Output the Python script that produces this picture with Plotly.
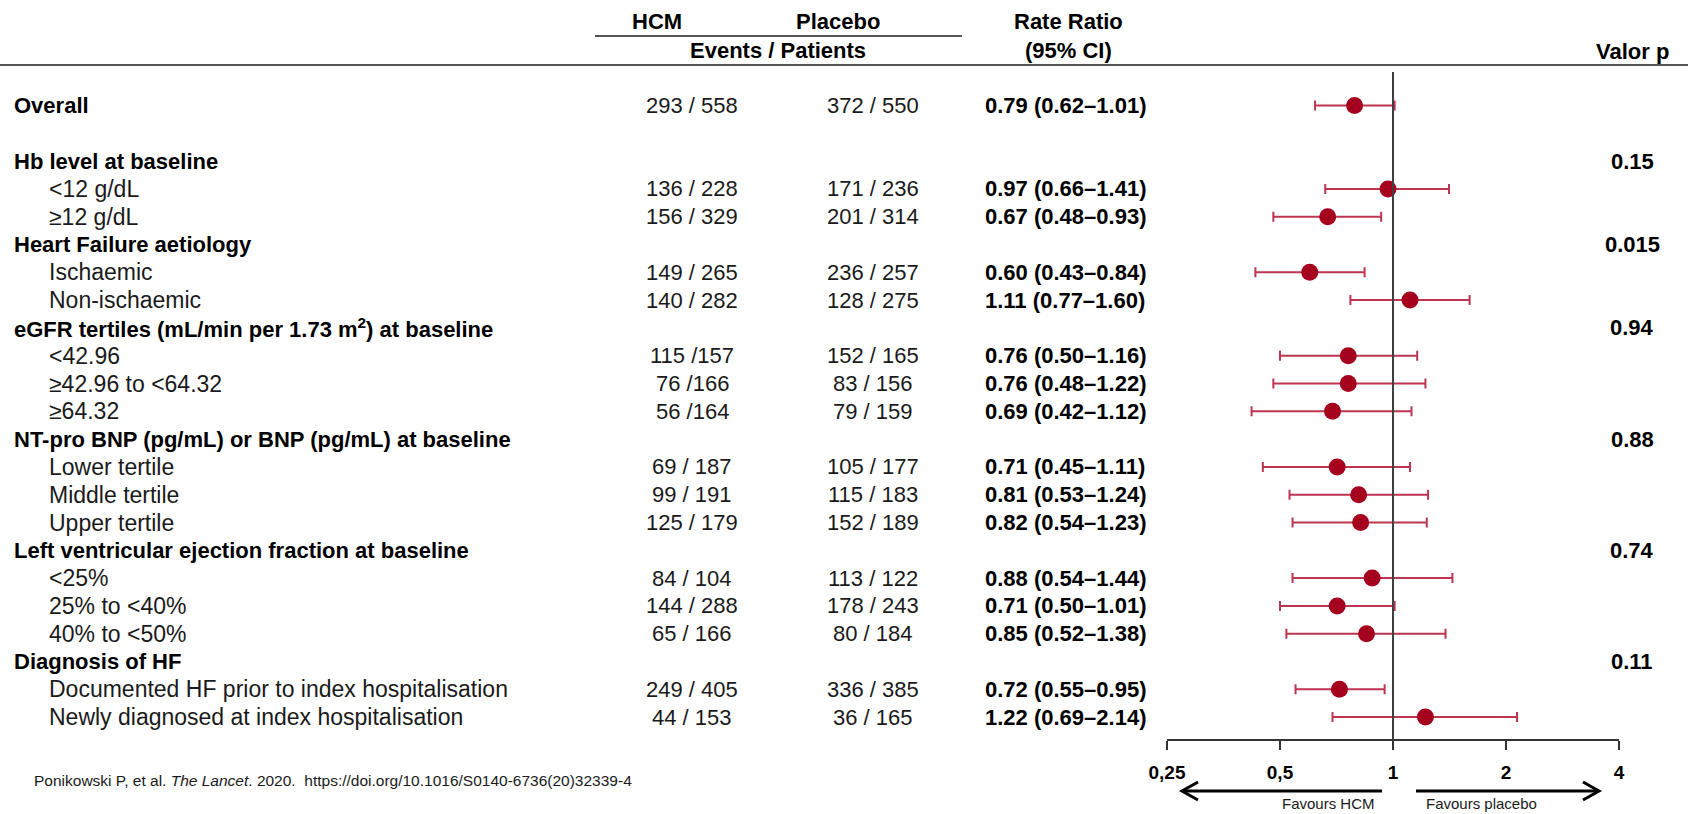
import plotly.graph_objects as go

W, H = 1688, 814

# ---- data -------------------------------------------------------------
overall_label = "Overall"
overall_hcm = "293 / 558"
overall_placebo = "372 / 550"
overall_rr, overall_lo, overall_hi = 0.79, 0.62, 1.01

group_names = [
    "Hb level at baseline",
    "Heart Failure aetiology",
    "eGFR tertiles (mL/min per 1.73 m<sup>2</sup>) at baseline",
    "NT-pro BNP (pg/mL) or BNP (pg/mL) at baseline",
    "Left ventricular ejection fraction at baseline",
    "Diagnosis of HF",
]
group_p = ["0.15", "0.015", "0.94", "0.88", "0.74", "0.11"]
group_sizes = [2, 2, 3, 3, 3, 2]

sub_labels = [
    "<12 g/dL", "≥12 g/dL",
    "Ischaemic", "Non-ischaemic",
    "<42.96", "≥42.96 to <64.32", "≥64.32",
    "Lower tertile", "Middle tertile", "Upper tertile",
    "<25%", "25% to <40%", "40% to <50%",
    "Documented HF prior to index hospitalisation",
    "Newly diagnosed at index hospitalisation",
]
hcm_events = [
    "136 / 228", "156 / 329",
    "149 / 265", "140 / 282",
    "115 /157", "76 /166", "56 /164",
    "69 / 187", "99 / 191", "125 / 179",
    "84 / 104", "144 / 288", "65 / 166",
    "249 / 405", "44 / 153",
]
placebo_events = [
    "171 / 236", "201 / 314",
    "236 / 257", "128 / 275",
    "152 / 165", "83 / 156", "79 / 159",
    "105 / 177", "115 / 183", "152 / 189",
    "113 / 122", "178 / 243", "80 / 184",
    "336 / 385", "36 / 165",
]
rate_ratio = [0.97, 0.67, 0.60, 1.11, 0.76, 0.76, 0.69, 0.71, 0.81, 0.82,
              0.88, 0.71, 0.85, 0.72, 1.22]
ci_low = [0.66, 0.48, 0.43, 0.77, 0.50, 0.48, 0.42, 0.45, 0.53, 0.54,
          0.54, 0.50, 0.52, 0.55, 0.69]
ci_high = [1.41, 0.93, 0.84, 1.60, 1.16, 1.22, 1.12, 1.11, 1.24, 1.23,
           1.44, 1.01, 1.38, 0.95, 2.14]

x_tickvals = [0.25, 0.5, 1, 2, 4]
x_ticktext = ["0,25", "0,5", "1", "2", "4"]

# ---- row layout -------------------------------------------------------
# row 0 = Overall, row 1 left blank, then each group header followed by its subgroups
est_rows = [0]
est_rr = [overall_rr]
est_lo = [overall_lo]
est_hi = [overall_hi]
group_rows = []
sub_rows = []
r = 2
for gsize in group_sizes:
    group_rows.append(r)
    r += 1
    for _ in range(gsize):
        sub_rows.append(r)
        r += 1
est_rows += sub_rows
est_rr += rate_ratio
est_lo += ci_low
est_hi += ci_high

# pixel geometry
ROW0, PITCH = 105.5, 27.8
PLOT_TOP, AXIS_Y = 65, 739
X_LEFT, X_RIGHT = 1167, 1619
y_top = (PLOT_TOP - ROW0) / PITCH
y_bot = (AXIS_Y - ROW0) / PITCH


def px(x):
    return x / W


def py(y):
    return 1 - y / H


FONT = "Liberation Sans, Arial, sans-serif"
FS = 22
FS_LABEL = 23
BLACK = "#000000"
TXT = "#1a1a1a"
MARKER = "#A5001E"
WHISKER = "#BD3550"

fig = go.Figure()

fig.add_trace(go.Scatter(
    x=est_rr,
    y=est_rows,
    mode="markers",
    marker=dict(symbol="circle", size=17, color=MARKER, line=dict(width=0)),
    error_x=dict(
        type="data",
        symmetric=False,
        array=[h - v for h, v in zip(est_hi, est_rr)],
        arrayminus=[v - l for v, l in zip(est_rr, est_lo)],
        color=WHISKER,
        thickness=2,
        width=5,
    ),
    showlegend=False,
    hoverinfo="skip",
))

annotations = []


def add_text(text, x, y, yref="y", size=FS, bold=False, anchor="left", color=TXT):
    t = f"<b>{text}</b>" if bold else text
    annotations.append(dict(
        text=t, x=px(x), y=y, xref="paper", yref=yref,
        xanchor=anchor, yanchor="middle", showarrow=False,
        font=dict(family=FONT, size=size, color=BLACK if bold else color),
    ))


def fmt_rr(v, lo, hi):
    return f"{v:.2f} ({lo:.2f}–{hi:.2f})"


# column headers
add_text("HCM", 657, py(22), yref="paper", bold=True, anchor="center")
add_text("Placebo", 838, py(22), yref="paper", bold=True, anchor="center")
add_text("Rate Ratio", 1068, py(22), yref="paper", bold=True, anchor="center")
add_text("Events / Patients", 778, py(50), yref="paper", bold=True, anchor="center")
add_text("(95% CI)", 1068, py(50), yref="paper", bold=True, anchor="center")
add_text("Valor p", 1632, py(52), yref="paper", bold=True, anchor="center")

# overall row
add_text(overall_label, 12, 0, bold=True)
add_text(overall_hcm, 692, 0, anchor="center")
add_text(overall_placebo, 873, 0, anchor="center")
add_text(fmt_rr(overall_rr, overall_lo, overall_hi), 983, 0, bold=True)

# group headers with interaction p-values
for name, p, row in zip(group_names, group_p, group_rows):
    add_text(name, 12, row, bold=True)
    add_text(p, 1632, row, bold=True, anchor="center")

# subgroup rows
for lab, h, pl, v, lo, hi, row in zip(sub_labels, hcm_events, placebo_events,
                                      rate_ratio, ci_low, ci_high, sub_rows):
    add_text(lab, 47, row, size=FS_LABEL)
    add_text(h, 692, row, anchor="center")
    add_text(pl, 873, row, anchor="center")
    add_text(fmt_rr(v, lo, hi), 983, row, bold=True)

# direction labels under the axis
add_text("Favours HCM", 1328, py(803), yref="paper", size=15, anchor="center")
add_text("Favours placebo", 1481, py(803), yref="paper", size=15, anchor="center")

# reference
annotations.append(dict(
    text="Ponikowski P, et al. <i>The Lancet</i>. 2020.  https://doi.org/10.1016/S0140-6736(20)32339-4",
    x=px(32), y=py(780), xref="paper", yref="paper", xanchor="left", yanchor="middle",
    showarrow=False, font=dict(family=FONT, size=15.5, color=TXT),
))

shapes = []
# header rules
shapes.append(dict(type="line", xref="paper", yref="paper",
                   x0=px(595), x1=px(962), y0=py(36), y1=py(36),
                   line=dict(color="#555555", width=2)))
shapes.append(dict(type="line", xref="paper", yref="paper",
                   x0=0, x1=1, y0=py(65), y1=py(65),
                   line=dict(color="#555555", width=2)))
# line of no effect
shapes.append(dict(type="line", xref="x", yref="paper",
                   x0=1, x1=1, y0=py(AXIS_Y), y1=py(72),
                   line=dict(color="#404040", width=2)))


def path(points):
    return "M " + " L ".join(f"{px(a)},{py(b)}" for a, b in points)


ARROW_Y = 791
for pts in ([(1382, ARROW_Y), (1182, ARROW_Y)],
            [(1198, ARROW_Y - 9), (1182, ARROW_Y), (1198, ARROW_Y + 9)],
            [(1416, ARROW_Y), (1599, ARROW_Y)],
            [(1583, ARROW_Y - 9), (1599, ARROW_Y), (1583, ARROW_Y + 9)]):
    shapes.append(dict(type="path", xref="paper", yref="paper", path=path(pts),
                       line=dict(color=BLACK, width=3)))

fig.update_layout(
    width=W, height=H,
    autosize=False,
    margin=dict(l=0, r=0, t=0, b=0, pad=0, autoexpand=False),
    paper_bgcolor="white",
    plot_bgcolor="white",
    showlegend=False,
    annotations=annotations,
    shapes=shapes,
    xaxis=dict(
        type="log",
        domain=[px(X_LEFT), px(X_RIGHT)],
        range=[-0.60206, 0.60206],
        tickvals=x_tickvals,
        ticktext=x_ticktext,
        ticks="outside",
        ticklen=9,
        tickwidth=1.5,
        tickcolor="#333333",
        showline=True,
        linecolor="#333333",
        linewidth=1.5,
        showgrid=False,
        zeroline=False,
        automargin=False,
        tickfont=dict(family=FONT, size=19, color=BLACK, weight="bold"),
        ticklabelstandoff=6,
        fixedrange=True,
    ),
    yaxis=dict(
        domain=[py(AXIS_Y), py(PLOT_TOP)],
        range=[y_bot, y_top],
        visible=False,
        showgrid=False,
        zeroline=False,
        automargin=False,
        fixedrange=True,
    ),
)

fig.write_html("out.html", config={"responsive": False})
